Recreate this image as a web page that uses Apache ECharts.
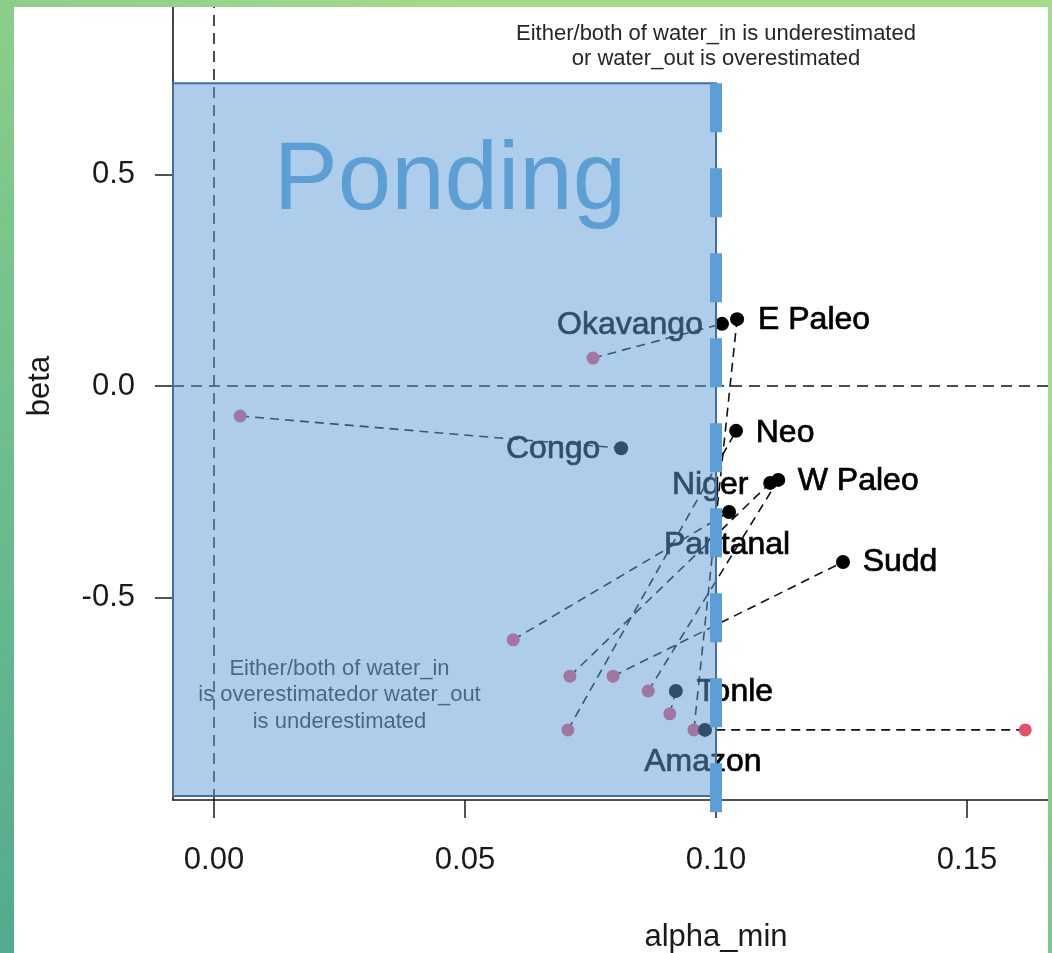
<!DOCTYPE html>
<html>
<head>
<meta charset="utf-8">
<title>alpha_min vs beta</title>
<script src="https://cdn.jsdelivr.net/npm/echarts@6/dist/echarts.min.js"></script>
<style>
  html, body { margin: 0; padding: 0; width: 1052px; height: 953px; overflow: hidden; }
  body { background: linear-gradient(35deg, #52aa90 0%, #7cc78a 45%, #a4da8a 75%, #a4da8a 100%); position: relative; }
  #chart { position: absolute; left: 14px; top: 7px; width: 1034px; height: 946px; background: #ffffff; }
</style>
</head>
<body>
<div id="chart"></div>
<script>
// Rivers / wetlands, with their starting and adjusted (alpha_min, beta) estimates
const rivers     = ['Okavango', 'E Paleo', 'Congo', 'Neo', 'Niger', 'W Paleo', 'Pantanal', 'Sudd', 'Tonle', 'Amazon'];
const alphaStart = [0.0755, 0.0956, 0.0052, 0.0705, 0.0709, 0.0865, 0.0596, 0.0795, 0.0908, 0.1616];
const betaStart  = [0.066, -0.813, -0.071, -0.813, -0.686, -0.721, -0.600, -0.686, -0.775, -0.813];
const alphaEnd   = [0.1012, 0.1042, 0.0811, 0.1040, 0.1108, 0.1124, 0.1026, 0.1253, 0.0920, 0.0978];
const betaEnd    = [0.147, 0.158, -0.147, -0.106, -0.229, -0.222, -0.298, -0.416, -0.721, -0.813];

// Axis ticks
const xTicks = [0.00, 0.05, 0.10, 0.15];
const yTicks = [-0.5, 0.0, 0.5];

// Ponding region: alpha below the threshold, beta up to its upper bound
const alphaThreshold = 0.10;
const pondingBeta = [-0.969, 0.716];

// Text annotations: [alpha, beta, text]
const noteUpper = [0.10, 0.803, 'Either/both of water_in is underestimated\nor water_out is overestimated'];
const noteLower = [0.025, -0.731, 'Either/both of water_in\nis overestimatedor water_out\nis underestimated'];
const pondingTitle = [0.047, 0.482, 'Ponding'];

// Repelled label placement, pixel offsets from each adjusted point
const labelOffsets = {
  'Okavango': [-92, 1], 'E Paleo': [77, 1], 'Congo': [-68, 1], 'Neo': [49, 2],
  'Niger': [-60, 2], 'W Paleo': [80, 1], 'Pantanal': [-2, 33], 'Sudd': [57, 0],
  'Tonle': [59, 1], 'Amazon': [-2, 32]
};

const FONT = '"Liberation Sans", Arial, sans-serif';
const X_MIN = -0.008167, X_MAX = 0.166135;
const Y_MIN = -0.9787, Y_MAX = 0.8960;

const startPts = rivers.map((r, i) => [alphaStart[i], betaStart[i]]);
const endPts = rivers.map((r, i) => [alphaEnd[i], betaEnd[i], i]);
const segments = rivers.map((r, i) => [alphaStart[i], betaStart[i], alphaEnd[i], betaEnd[i]]);

const chart = echarts.init(document.getElementById('chart'), null, { renderer: 'canvas' });

function textItem(api, note, fontSize, color, lineHeight) {
  const p = api.coord([note[0], note[1]]);
  return {
    type: 'text', x: p[0], y: p[1],
    style: {
      text: note[2], fill: color, align: 'center', verticalAlign: 'middle',
      font: fontSize + 'px ' + FONT, lineHeight: lineHeight
    }
  };
}

const option = {
  animation: false,
  grid: { left: 159, right: 0, top: 0, bottom: 153, containLabel: false },
  xAxis: {
    type: 'value', min: X_MIN, max: X_MAX,
    axisLine: { show: true, onZero: false, lineStyle: { color: '#1a1a1a', width: 1.6 } },
    axisTick: { show: true, customValues: xTicks, length: 18, lineStyle: { color: '#1a1a1a', width: 1.5 } },
    axisLabel: { show: true, customValues: xTicks, margin: 45, color: '#1a1a1a', fontSize: 31, fontFamily: FONT,
                 formatter: v => v.toFixed(2) },
    splitLine: { show: false }
  },
  yAxis: {
    type: 'value', min: Y_MIN, max: Y_MAX,
    axisLine: { show: true, onZero: false, lineStyle: { color: '#1a1a1a', width: 1.6 } },
    axisTick: { show: true, customValues: yTicks, length: 18, lineStyle: { color: '#1a1a1a', width: 1.5 } },
    axisLabel: { show: true, customValues: yTicks, margin: 38, color: '#1a1a1a', fontSize: 31, fontFamily: FONT,
                 formatter: v => v.toFixed(1) },
    splitLine: { show: false }
  },
  graphic: [
    { type: 'text', x: 26, y: 379, rotation: Math.PI / 2,
      style: { text: 'beta', font: '31px ' + FONT, fill: '#1a1a1a', align: 'center', verticalAlign: 'middle' } },
    { type: 'text', x: 702, y: 930,
      style: { text: 'alpha_min', font: '31px ' + FONT, fill: '#1a1a1a', align: 'center', verticalAlign: 'middle' } }
  ],
  series: [
    {
      // zero reference lines
      type: 'scatter', data: [], z: 1,
      markLine: {
        silent: true, symbol: 'none', label: { show: false },
        lineStyle: { color: '#111', width: 1.5, type: [11, 7] },
        data: [{ xAxis: 0 }, { yAxis: 0 }]
      }
    },
    {
      // dashed segment from each starting estimate to its adjusted estimate
      type: 'custom', z: 2, clip: false,
      data: segments,
      renderItem: (params, api) => {
        const a = api.coord([api.value(0), api.value(1)]);
        const b = api.coord([api.value(2), api.value(3)]);
        return {
          type: 'line', shape: { x1: a[0], y1: a[1], x2: b[0], y2: b[1] },
          style: { stroke: '#111', lineWidth: 1.6, lineDash: [9, 6], fill: null }
        };
      }
    },
    {
      type: 'scatter', z: 3, symbolSize: 13,
      itemStyle: { color: '#e8506a', opacity: 1 },
      data: startPts
    },
    {
      type: 'scatter', z: 3, symbolSize: 14,
      itemStyle: { color: '#000000', opacity: 1 },
      data: endPts
    },
    {
      // river labels
      type: 'custom', z: 4, clip: false,
      data: endPts,
      renderItem: (params, api) => {
        const i = api.value(2);
        const p = api.coord([api.value(0), api.value(1)]);
        const off = labelOffsets[rivers[i]];
        return {
          type: 'text', x: p[0] + off[0], y: p[1] + off[1],
          style: { text: rivers[i], fill: '#000', align: 'center', verticalAlign: 'middle',
                   font: '32px ' + FONT, stroke: '#000', lineWidth: 0.7 }
        };
      }
    },
    {
      // annotations
      type: 'custom', z: 4, clip: false,
      data: [0, 1],
      renderItem: (params, api) => {
        if (params.dataIndex === 0) return textItem(api, noteUpper, 22, '#262626', 25);
        return textItem(api, noteLower, 22, '#333333', 26.5);
      }
    },
    {
      // translucent ponding region drawn over the points
      type: 'custom', z: 10, clip: false,
      data: [[X_MIN, pondingBeta[0], alphaThreshold, pondingBeta[1]]],
      renderItem: (params, api) => {
        const tl = api.coord([api.value(0), api.value(3)]);
        const br = api.coord([api.value(2), api.value(1)]);
        return {
          type: 'rect',
          shape: { x: tl[0], y: tl[1], width: br[0] - tl[0], height: br[1] - tl[1] },
          style: { fill: 'rgba(91,155,213,0.5)', stroke: '#41709f', lineWidth: 2 }
        };
      }
    },
    {
      // threshold line and region title
      type: 'custom', z: 11, clip: false,
      data: [[alphaThreshold, pondingBeta[1]]],
      renderItem: (params, api) => {
        const top = api.coord([api.value(0), api.value(1)]);
        const bottom = api.coord([api.value(0), Y_MIN]);
        const t = api.coord([pondingTitle[0], pondingTitle[1]]);
        return {
          type: 'group',
          children: [
            { type: 'line', shape: { x1: top[0], y1: top[1], x2: bottom[0], y2: bottom[1] + 13 },
              style: { stroke: '#5b9fd6', lineWidth: 12, lineDash: [49, 36], lineCap: 'butt' } },
            { type: 'text', x: t[0], y: t[1],
              style: { text: pondingTitle[2], fill: '#5b9fd5', align: 'center', verticalAlign: 'middle',
                       font: '96px ' + FONT } }
          ]
        };
      }
    }
  ]
};

chart.setOption(option);
</script>
</body>
</html>
